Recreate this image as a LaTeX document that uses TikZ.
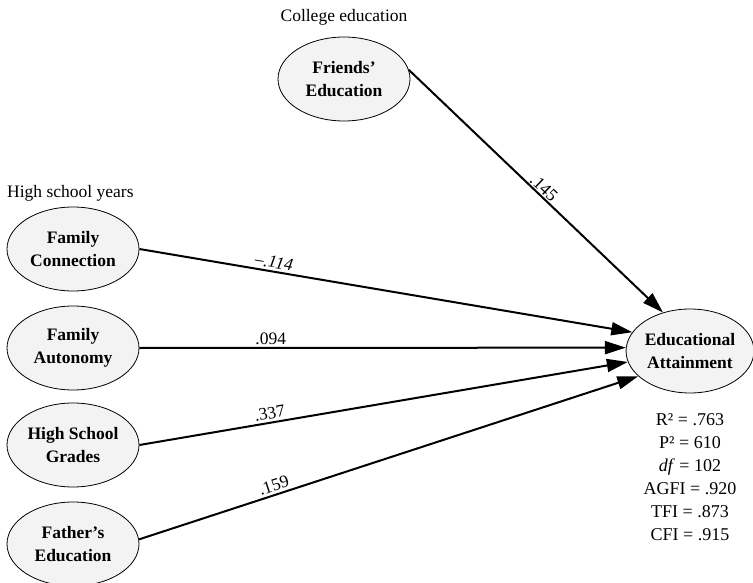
\documentclass[tikz,border=0pt]{standalone}
\usepackage{fontspec}
\setmainfont{Liberation Serif}
\usetikzlibrary{shapes.geometric,arrows.meta}
\definecolor{ellfill}{HTML}{F3F3F3}
\tikzset{
  latent/.style={ellipse, draw=black, line width=0.8pt, fill=ellfill,
    minimum width=132pt, minimum height=84pt, inner sep=0pt, align=center,
    font=\fontsize{17.5}{23}\selectfont\bfseries},
  path/.style={line width=2pt, -{Triangle[length=21pt,width=13pt]}},
  coef/.style={font=\fontsize{17.5}{20}\selectfont, sloped, above, inner sep=2.5pt},
  heading/.style={font=\fontsize{17.5}{20}\selectfont, inner sep=0pt}
}
\begin{document}
\begin{tikzpicture}[x=1pt,y=-1pt]
\useasboundingbox (0,0) rectangle (753,583);
\node[heading] (ch) at (344,17) {College education};
\node[heading, anchor=west] (hh) at (7,193) {High school years};
\node[latent] (fr) at (344,79) {Friends’\\Education};
\node[latent] (fc) at (73,249) {Family\\Connection};
\node[latent] (fa) at (73,348) {Family\\Autonomy};
\node[latent] (hs) at (73,445) {High School\\Grades};
\node[latent] (fe) at (73,544) {Father’s\\Education};
\node[latent, minimum width=126pt] (ea) at (690,351) {Educational\\Attainment};
\draw[path] (fr.8) -- node[coef, pos=0.51, inner sep=1pt] (l1) {.145} (ea.125);
\draw[path] (fc.east) -- node[coef, pos=0.27] (l2) {\textit{–.114}} (ea.162);
\draw[path] (fa.east) -- node[coef, pos=0.27] (l3) {.094} (ea.177);
\draw[path] (hs.east) -- node[coef, pos=0.27] (l4) {.337} (ea.190.6);
\draw[path] (fe.4) -- node[coef, pos=0.276] (l5) {.159} (ea.206.6);
\node[font=\fontsize{18}{23}\selectfont, align=center, anchor=north, inner sep=0pt] (st) at (690,413)
  {R² = .763\\P² = 610\\\textit{df} = 102\\AGFI = .920\\TFI = .873\\CFI = .915};
\end{tikzpicture}
\end{document}
